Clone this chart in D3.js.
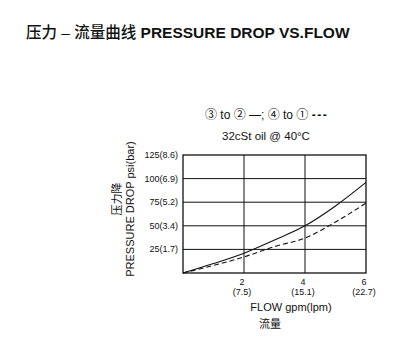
<!DOCTYPE html>
<html>
<head>
<meta charset="utf-8">
<script src="https://cdn.jsdelivr.net/npm/d3@7"></script>
<style>
  body { margin: 0; background: #fff; }
  text { font-family: "Liberation Sans", Arial, "Noto Sans CJK SC", sans-serif; fill: #111; }
</style>
</head>
<body>
<svg id="chart" width="404" height="351"></svg>
<script>
var flow = [0, 1, 2, 3, 4, 5, 6]
var solidDrop = [0, 10, 21, 35, 50, 71, 96]
var dashedDrop = [0, 8, 17, 28, 37, 54, 74]
var yTicks = [25, 50, 75, 100, 125]
var yTickLabels = ["25(1.7)", "50(3.4)", "75(5.2)", "100(6.9)", "125(8.6)"]
var xTicks = [2, 4, 6]
var xTickLpm = ["(7.5)", "(15.1)", "(22.7)"]

var width = 404, height = 351
var margin = {top: 155, right: 38, bottom: 78, left: 183}
var svg = d3.select('#chart').attr("viewBox", [0, 0, width, height])

var x = d3.scaleLinear().domain([0, 6]).range([margin.left, width - margin.right])
var y = d3.scaleLinear().domain([0, 125]).range([height - margin.bottom, margin.top])

// title
var title = svg.append("text")
    .attr("x", 26).attr("y", 38)
    .attr("font-size", 15.5)
title.append("tspan").attr("font-weight", 500).text("压力 – 流量曲线 ")
title.append("tspan").attr("font-weight", "bold").text("PRESSURE DROP VS.FLOW")

// legend
var leg = svg.append("text")
    .attr("x", 205).attr("y", 119)
    .attr("font-size", 12)
leg.append("tspan").text("③ to ② —; ④ to ① ")
leg.append("tspan").attr("font-weight", "bold").attr("letter-spacing", 1.5).text("---")
svg.append("text")
    .attr("x", 266).attr("y", 140)
    .attr("text-anchor", "middle")
    .attr("font-size", 11.5)
    .text("32cSt oil @ 40°C")

// grid
var grid = svg.append("g").attr("stroke", "#111").attr("stroke-width", 1)
grid.selectAll(".hy").data(yTicks.slice(0, -1)).join("line")
    .attr("x1", x(0)).attr("x2", x(6))
    .attr("y1", d => y(d)).attr("y2", d => y(d))
grid.selectAll(".vx").data(xTicks.slice(0, -1)).join("line")
    .attr("x1", d => x(d)).attr("x2", d => x(d))
    .attr("y1", y(0)).attr("y2", y(125))
svg.append("rect")
    .attr("x", x(0)).attr("y", y(125))
    .attr("width", x(6) - x(0)).attr("height", y(0) - y(125))
    .attr("fill", "none").attr("stroke", "#111").attr("stroke-width", 1.3)

// y tick labels
svg.append("g").selectAll("text").data(yTicks).join("text")
    .attr("x", x(0) - 5).attr("y", d => y(d) + 3)
    .attr("text-anchor", "end").attr("font-size", 9)
    .text((d, i) => yTickLabels[i])

// x tick labels
var xl = svg.append("g").selectAll("g").data(xTicks).join("g")
    .attr("transform", d => `translate(${x(d) - 2},0)`)
xl.append("text").attr("y", 285).attr("text-anchor", "middle").attr("font-size", 9).text(d => d)
xl.append("text").attr("y", 295).attr("text-anchor", "middle").attr("font-size", 9).text((d, i) => xTickLpm[i])

// axis titles
svg.append("text")
    .attr("x", 291).attr("y", 311)
    .attr("text-anchor", "middle").attr("font-size", 11)
    .text("FLOW gpm(lpm)")
svg.append("text")
    .attr("x", 270).attr("y", 328)
    .attr("text-anchor", "middle").attr("font-size", 11)
    .text("流量")
svg.append("text")
    .attr("transform", "translate(134,209) rotate(-90)")
    .attr("text-anchor", "middle").attr("font-size", 11)
    .text("PRESSURE DROP psi(bar)")
svg.append("text")
    .attr("transform", "translate(121,199) rotate(-90)")
    .attr("text-anchor", "middle").attr("font-size", 11)
    .text("压力降")

// curves
var line = d3.line()
    .x((d, i) => x(flow[i]))
    .y(d => y(d))
    .curve(d3.curveMonotoneX)
svg.append("path")
    .attr("d", line(solidDrop))
    .attr("fill", "none").attr("stroke", "#111").attr("stroke-width", 1.1)
svg.append("path")
    .attr("d", line(dashedDrop))
    .attr("fill", "none").attr("stroke", "#111").attr("stroke-width", 1.1)
    .attr("stroke-dasharray", "5,3")
</script>
</body>
</html>
